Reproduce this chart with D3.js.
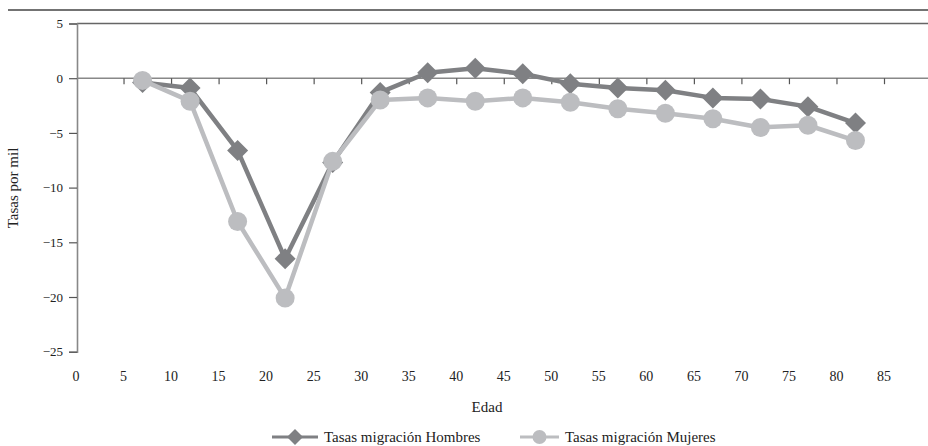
<!DOCTYPE html>
<html><head><meta charset="utf-8">
<script src="https://cdn.jsdelivr.net/npm/d3@7"></script>
<style>body{margin:0;background:#fff}svg{display:block}svg text{font-family:"Liberation Serif","Times New Roman",Times,Tinos,"Noto Serif","DejaVu Serif",serif !important;fill:#222}</style>
</head><body><svg id="c" width="928" height="446"></svg>
<script>
const ages = [7,12,17,22,27,32,37,42,47,52,57,62,67,72,77,82];
const hombres = [-0.4,-0.9,-6.6,-16.5,-7.7,-1.3,0.5,0.9,0.4,-0.5,-0.9,-1.1,-1.8,-1.9,-2.6,-4.1];
const mujeres = [-0.2,-2.1,-13.1,-20.1,-7.6,-2.0,-1.8,-2.1,-1.8,-2.2,-2.8,-3.2,-3.7,-4.5,-4.3,-5.7];
const xTicks = [0,5,10,15,20,25,30,35,40,45,50,55,60,65,70,75,80,85];
const yTicks = [5,0,-5,-10,-15,-20,-25];
const seriesNames = ["Tasas migración Hombres","Tasas migración Mujeres"];

const svg = d3.select("#c");
const x = d3.scaleLinear().domain([0,85]).range([76,884]);
const y = d3.scaleLinear().domain([-25,5]).range([351.7,23.5]);
const dark = "#7f8083", light = "#bcbdc0";

svg.append("line").attr("x1",8).attr("x2",928).attr("y1",10).attr("y2",10).attr("stroke","#444").attr("stroke-width",1.3);
svg.append("line").attr("x1",77).attr("x2",928).attr("y1",y(5)).attr("y2",y(5)).attr("stroke","#666").attr("stroke-width",1.3);

const ya = svg.append("g").attr("transform","translate(77,0)")
  .call(d3.axisLeft(y).tickValues(yTicks).tickSize(8).tickPadding(6).tickFormat(d=>d<0?"\u2212"+(-d):d));
ya.attr("font-family",null);
ya.select(".domain").attr("stroke","#888").attr("stroke-width",1.6);
ya.selectAll(".tick line").attr("stroke","#555").attr("stroke-width",1.2);
ya.selectAll(".tick text").attr("font-size",13).attr("fill","#222");

const xa = svg.append("g").attr("transform",`translate(0,${y(0)})`)
  .call(d3.axisBottom(x).tickValues(xTicks.filter(d=>d>0)).tickSize(6).tickFormat(""));
xa.select(".domain").attr("d",`M77,0H928`).attr("stroke","#888").attr("stroke-width",1.6);
xa.selectAll(".tick line").attr("stroke","#555").attr("stroke-width",1.2);

svg.append("g").selectAll("text").data(xTicks).join("text")
  .attr("x",d=>x(d)).attr("y",381).attr("text-anchor","middle").attr("font-size",14).text(d=>d);

svg.append("text").attr("x",487).attr("y",412).attr("text-anchor","middle").attr("font-size",15).text("Edad");
svg.append("text").attr("transform","translate(18,188) rotate(-90)").attr("text-anchor","middle").attr("font-size",15).text("Tasas por mil");

const line = d3.line().x(d=>x(d[0])).y(d=>y(d[1]));
const hData = ages.map((a,i)=>[a,hombres[i]]);
const mData = ages.map((a,i)=>[a,mujeres[i]]);
const diamond = (cx,cy,s)=>`M${cx},${cy-s}L${cx+s},${cy}L${cx},${cy+s}L${cx-s},${cy}Z`;

svg.append("path").datum(hData).attr("d",line).attr("fill","none").attr("stroke",dark).attr("stroke-width",4.5).attr("stroke-linejoin","round");
svg.append("g").selectAll("path").data(hData).join("path").attr("d",d=>diamond(x(d[0]),y(d[1]),10.5)).attr("fill",dark);
svg.append("path").datum(mData).attr("d",line).attr("fill","none").attr("stroke",light).attr("stroke-width",4.5).attr("stroke-linejoin","round");
svg.append("g").selectAll("circle").data(mData).join("circle").attr("cx",d=>x(d[0])).attr("cy",d=>y(d[1])).attr("r",9.5).attr("fill",light);

const ly = 437;
const lg = [{x1:272,x2:318,c:dark,shape:"d",tx:324},{x1:520,x2:559,c:light,shape:"c",tx:565}];
lg.forEach((l,i)=>{
  svg.append("line").attr("x1",l.x1).attr("x2",l.x2).attr("y1",ly).attr("y2",ly).attr("stroke",l.c).attr("stroke-width",3);
  const cx=(l.x1+l.x2)/2;
  if(l.shape==="d") svg.append("path").attr("d",diamond(cx,ly,8)).attr("fill",l.c);
  else svg.append("circle").attr("cx",cx).attr("cy",ly).attr("r",7).attr("fill",l.c);
  svg.append("text").attr("x",l.tx).attr("y",ly+5).attr("font-size",15).text(seriesNames[i]);
});
</script></body></html>
